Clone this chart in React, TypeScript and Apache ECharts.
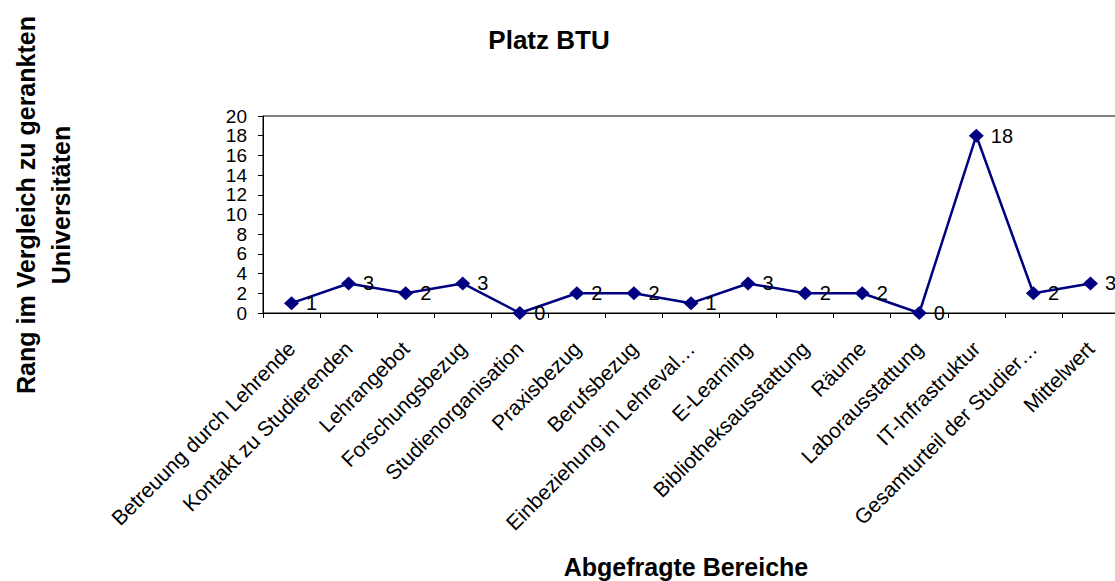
import React, { useEffect, useRef } from "react";
import * as echarts from "echarts";

const categories = [
  "Betreuung durch Lehrende",
  "Kontakt zu Studierenden",
  "Lehrangebot",
  "Forschungsbezug",
  "Studienorganisation",
  "Praxisbezug",
  "Berufsbezug",
  "Einbeziehung in Lehreval…",
  "E-Learning",
  "Bibliotheksausstattung",
  "Räume",
  "Laborausstattung",
  "IT-Infrastruktur",
  "Gesamturteil der Studier…",
  "Mittelwert",
];
const values = [1, 3, 2, 3, 0, 2, 2, 1, 3, 2, 2, 0, 18, 2, 3];
const titleText = "Platz BTU";
const xName = "Abgefragte Bereiche";
const yName = "Rang im Vergleich zu gerankten\nUniversitäten";

const FONT = "'Liberation Sans', Arial, sans-serif";

export default function App() {
  const ref = useRef<HTMLDivElement>(null);
  useEffect(() => {
    if (!ref.current) return;
    const chart = echarts.init(ref.current, null, { renderer: "svg" });
    chart.setOption({
      animation: false,
      backgroundColor: "#fff",
      grid: {
        left: 263,
        top: 116,
        right: 11,
        bottom: 268,
        show: true,
        borderColor: "#000",
        borderWidth: 1,
        containLabel: false,
      },
      xAxis: {
        type: "category",
        data: categories,
        boundaryGap: true,
        axisLine: { lineStyle: { color: "#000", width: 1 } },
        axisTick: { show: true, length: 5, lineStyle: { color: "#000" } },
        axisLabel: {
          rotate: 45,
          interval: 0,
          margin: 32,
          color: "#000",
          fontSize: 21,
          fontFamily: FONT,
        },
        splitLine: { show: false },
      },
      yAxis: {
        type: "value",
        min: 0,
        max: 20,
        interval: 2,
        axisLine: { show: true, lineStyle: { color: "#000", width: 1 } },
        axisTick: { show: true, length: 5, lineStyle: { color: "#000" } },
        axisLabel: {
          margin: 16,
          color: "#000",
          fontSize: 19,
          lineHeight: 17,
          showMinLabel: true,
          showMaxLabel: true,
          hideOverlap: false,
          fontFamily: FONT,
        },
        splitLine: { show: false },
      },
      series: [
        {
          type: "line",
          data: values,
          symbol: "diamond",
          symbolSize: [15, 14],
          lineStyle: { color: "#000080", width: 2.5 },
          itemStyle: { color: "#000080" },
          label: {
            show: true,
            position: "right",
            distance: 7,
            color: "#000",
            fontSize: 20,
            fontFamily: FONT,
          },
        },
      ],
      graphic: [
        {
          type: "text",
          x: 549,
          y: 40,
          style: {
            text: titleText,
            fill: "#000",
            font: `bold 26px ${FONT}`,
            textAlign: "center",
            textVerticalAlign: "middle",
          },
        },
        {
          type: "text",
          x: 686,
          y: 567,
          style: {
            text: xName,
            fill: "#000",
            font: `bold 25px ${FONT}`,
            textAlign: "center",
            textVerticalAlign: "middle",
          },
        },
        {
          type: "text",
          x: 43,
          y: 205,
          rotation: Math.PI / 2,
          style: {
            text: yName,
            fill: "#000",
            font: `bold 25px ${FONT}`,
            lineHeight: 35,
            textAlign: "center",
            textVerticalAlign: "middle",
          },
        },
      ],
    });
    return () => chart.dispose();
  }, []);
  return (
    <div
      style={{
        position: "absolute",
        left: 0,
        top: 0,
        width: 1115,
        height: 581,
        overflow: "hidden",
        background: "#fff",
      }}
    >
      <div ref={ref} style={{ width: 1130, height: 581 }} />
    </div>
  );
}
